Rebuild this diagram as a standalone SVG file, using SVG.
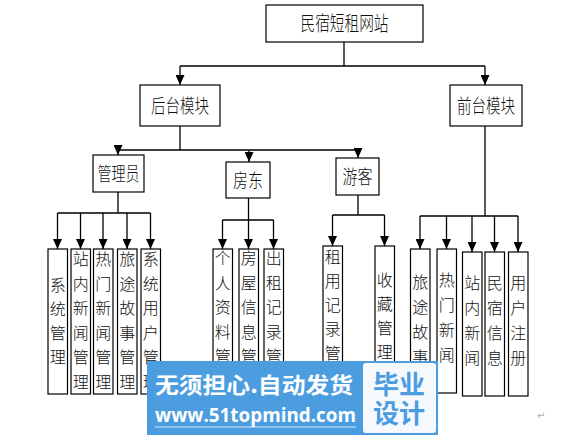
<svg xmlns="http://www.w3.org/2000/svg" width="585" height="435" viewBox="0 0 585 435">
<defs>
<marker id="arr" markerUnits="userSpaceOnUse" markerWidth="10" markerHeight="9" refX="10" refY="4.5" orient="auto">
<path d="M0,0 L10,4.5 L0,9 z" fill="#000"/>
</marker>
<style>
.box{fill:#fff;stroke:#000;stroke-width:1.2}
.lbl{font-family:"Noto Sans CJK SC","Noto Sans CJK JP",sans-serif;font-weight:300;fill:#111;text-anchor:middle}
.h{font-size:19px}
.v{font-size:16px}
.ln{fill:none;stroke:#000;stroke-width:1.3}
.ar{fill:none;stroke:#000;stroke-width:1.3;marker-end:url(#arr)}
</style>
</defs>
<rect width="585" height="435" fill="#fff"/>

<g id="connectors">
<path class="ln" d="M344,42 V66 M180,66 H485"/>
<path class="ar" d="M180,66 V85"/>
<path class="ar" d="M485,66 V85"/>
<path class="ln" d="M180,126 V150 M118,150 H358"/>
<path class="ar" d="M118,150 V155"/>
<path class="ar" d="M249,150 V162"/>
<path class="ar" d="M358,150 V158"/>
<path class="ln" d="M118,192 V213 M57.5,213 H150.5"/>
<path class="ar" d="M57.5,213 V249"/>
<path class="ar" d="M80.5,213 V249"/>
<path class="ar" d="M103,213 V249"/>
<path class="ar" d="M127,213 V249"/>
<path class="ar" d="M150.5,213 V249"/>
<path class="ln" d="M248.5,198 V220 M222.5,220 H273.5"/>
<path class="ar" d="M222.5,220 V249"/>
<path class="ar" d="M248.5,220 V249"/>
<path class="ar" d="M273.5,220 V249"/>
<path class="ln" d="M358,195 V215 M332.5,215 H384.5"/>
<path class="ar" d="M332.5,215 V246"/>
<path class="ar" d="M384.5,215 V246"/>
<path class="ln" d="M485,126 V216 M420,216 H518"/>
<path class="ar" d="M420,216 V249"/>
<path class="ar" d="M446.5,216 V249"/>
<path class="ar" d="M472,216 V252"/>
<path class="ar" d="M494.5,216 V252"/>
<path class="ar" d="M518,216 V252"/>
</g>

<g id="root"><rect class="box" x="266" y="5" width="157" height="37"/><text class="lbl" x="344.5" y="31" style="font-size:20px" textLength="88" lengthAdjust="spacingAndGlyphs">民宿短租网站</text></g>
<g id="backend"><rect class="box" x="140" y="85" width="80" height="41"/><text class="lbl h" x="180" y="113" textLength="58" lengthAdjust="spacingAndGlyphs">后台模块</text></g>
<g id="frontend"><rect class="box" x="450" y="85" width="72" height="41"/><text class="lbl h" x="486" y="113" textLength="58" lengthAdjust="spacingAndGlyphs">前台模块</text></g>
<g id="admin"><rect class="box" x="93" y="155" width="51" height="37"/><text class="lbl h" x="118.5" y="181" textLength="42" lengthAdjust="spacingAndGlyphs">管理员</text></g>
<g id="landlord"><rect class="box" x="226" y="162" width="44" height="36"/><text class="lbl h" x="248" y="188" textLength="30" lengthAdjust="spacingAndGlyphs">房东</text></g>
<g id="guest"><rect class="box" x="336" y="158" width="43" height="37"/><text class="lbl h" x="357.5" y="184" textLength="30" lengthAdjust="spacingAndGlyphs">游客</text></g>

<g id="a1"><rect class="box" x="48" y="249" width="19.5" height="145"/><text class="lbl v"><tspan x="57.8" y="291">系</tspan><tspan x="57.8" y="315">统</tspan><tspan x="57.8" y="339">管</tspan><tspan x="57.8" y="363">理</tspan></text></g>
<g id="a2"><rect class="box" x="71" y="249" width="19.5" height="145"/><text class="lbl v"><tspan x="80.8" y="265">站</tspan><tspan x="80.8" y="289.5">内</tspan><tspan x="80.8" y="314">新</tspan><tspan x="80.8" y="338.5">闻</tspan><tspan x="80.8" y="363">管</tspan><tspan x="80.8" y="387.5">理</tspan></text></g>
<g id="a3"><rect class="box" x="93.5" y="249" width="19.5" height="145"/><text class="lbl v"><tspan x="103.3" y="265">热</tspan><tspan x="103.3" y="289.5">门</tspan><tspan x="103.3" y="314">新</tspan><tspan x="103.3" y="338.5">闻</tspan><tspan x="103.3" y="363">管</tspan><tspan x="103.3" y="387.5">理</tspan></text></g>
<g id="a4"><rect class="box" x="117.5" y="249" width="19.5" height="145"/><text class="lbl v"><tspan x="127.3" y="265">旅</tspan><tspan x="127.3" y="289.5">途</tspan><tspan x="127.3" y="314">故</tspan><tspan x="127.3" y="338.5">事</tspan><tspan x="127.3" y="363">管</tspan><tspan x="127.3" y="387.5">理</tspan></text></g>
<g id="a5"><rect class="box" x="141" y="249" width="19.5" height="145"/><text class="lbl v"><tspan x="150.8" y="265">系</tspan><tspan x="150.8" y="289.5">统</tspan><tspan x="150.8" y="314">用</tspan><tspan x="150.8" y="338.5">户</tspan><tspan x="150.8" y="363">管</tspan><tspan x="150.8" y="387.5">理</tspan></text></g>

<g id="l1"><rect class="box" x="213" y="249" width="19.5" height="145"/><text class="lbl v"><tspan x="222.8" y="264">个</tspan><tspan x="222.8" y="288.5">人</tspan><tspan x="222.8" y="313">资</tspan><tspan x="222.8" y="337.5">料</tspan><tspan x="222.8" y="362">管</tspan><tspan x="222.8" y="386.5">理</tspan></text></g>
<g id="l2"><rect class="box" x="239" y="249" width="19.5" height="145"/><text class="lbl v"><tspan x="248.8" y="264">房</tspan><tspan x="248.8" y="288.5">屋</tspan><tspan x="248.8" y="313">信</tspan><tspan x="248.8" y="337.5">息</tspan><tspan x="248.8" y="362">管</tspan><tspan x="248.8" y="386.5">理</tspan></text></g>
<g id="l3"><rect class="box" x="264" y="249" width="19.5" height="145"/><text class="lbl v"><tspan x="273.8" y="264">出</tspan><tspan x="273.8" y="288.5">租</tspan><tspan x="273.8" y="313">记</tspan><tspan x="273.8" y="337.5">录</tspan><tspan x="273.8" y="362">管</tspan><tspan x="273.8" y="386.5">理</tspan></text></g>

<g id="g1"><rect class="box" x="323" y="246" width="19.5" height="146"/><text class="lbl v"><tspan x="332.8" y="263">租</tspan><tspan x="332.8" y="287">用</tspan><tspan x="332.8" y="311">记</tspan><tspan x="332.8" y="335">录</tspan><tspan x="332.8" y="359">管</tspan><tspan x="332.8" y="383">理</tspan></text></g>
<g id="g2"><rect class="box" x="375" y="246" width="19.5" height="146"/><text class="lbl v"><tspan x="384.8" y="286">收</tspan><tspan x="384.8" y="310">藏</tspan><tspan x="384.8" y="334">管</tspan><tspan x="384.8" y="358">理</tspan></text></g>

<g id="f1"><rect class="box" x="410.5" y="249" width="19.5" height="144"/><text class="lbl v"><tspan x="420.3" y="288">旅</tspan><tspan x="420.3" y="313">途</tspan><tspan x="420.3" y="338">故</tspan><tspan x="420.3" y="363">事</tspan></text></g>
<g id="f2"><rect class="box" x="437" y="249" width="19.5" height="144"/><text class="lbl v"><tspan x="446.8" y="286">热</tspan><tspan x="446.8" y="311">门</tspan><tspan x="446.8" y="336">新</tspan><tspan x="446.8" y="361">闻</tspan></text></g>
<g id="f3"><rect class="box" x="462.5" y="252" width="19.5" height="144"/><text class="lbl v"><tspan x="472.3" y="289">站</tspan><tspan x="472.3" y="314">内</tspan><tspan x="472.3" y="339">新</tspan><tspan x="472.3" y="364">闻</tspan></text></g>
<g id="f4"><rect class="box" x="485" y="252" width="19.5" height="144"/><text class="lbl v"><tspan x="494.8" y="289">民</tspan><tspan x="494.8" y="314">宿</tspan><tspan x="494.8" y="339">信</tspan><tspan x="494.8" y="364">息</tspan></text></g>
<g id="f5"><rect class="box" x="508.5" y="252" width="19.5" height="144"/><text class="lbl v"><tspan x="518.3" y="289">用</tspan><tspan x="518.3" y="314">户</tspan><tspan x="518.3" y="339">注</tspan><tspan x="518.3" y="364">册</tspan></text></g>

<text x="537" y="419" style="font-family:'DejaVu Sans',sans-serif;font-size:10px;fill:#aaa">↵</text>

<g id="watermark">
<rect x="147" y="361" width="291" height="74" fill="#4b9de0"/>
<rect x="363" y="363" width="73" height="70" rx="3" fill="#f5f9fd"/>
<text x="155" y="393" style="font-family:'Noto Sans CJK SC',sans-serif;font-size:22px;font-weight:700;fill:#fff" textLength="198" lengthAdjust="spacingAndGlyphs">无须担心.自动发货</text>
<text x="155" y="422" style="font-family:'Open Sans','Noto Sans',sans-serif;font-size:20px;font-weight:700;fill:#fff" textLength="201" lengthAdjust="spacingAndGlyphs">www.51topmind.com</text>
<line x1="155" y1="427" x2="356" y2="427" stroke="#fff" stroke-width="1" opacity="0.8"/>
<text x="399" y="394" style="font-family:'Noto Sans CJK SC',sans-serif;font-size:26px;font-weight:700;fill:#4b9de0;text-anchor:middle">毕业</text>
<text x="399" y="423" style="font-family:'Noto Sans CJK SC',sans-serif;font-size:26px;font-weight:700;fill:#4b9de0;text-anchor:middle">设计</text>
</g>
</svg>
